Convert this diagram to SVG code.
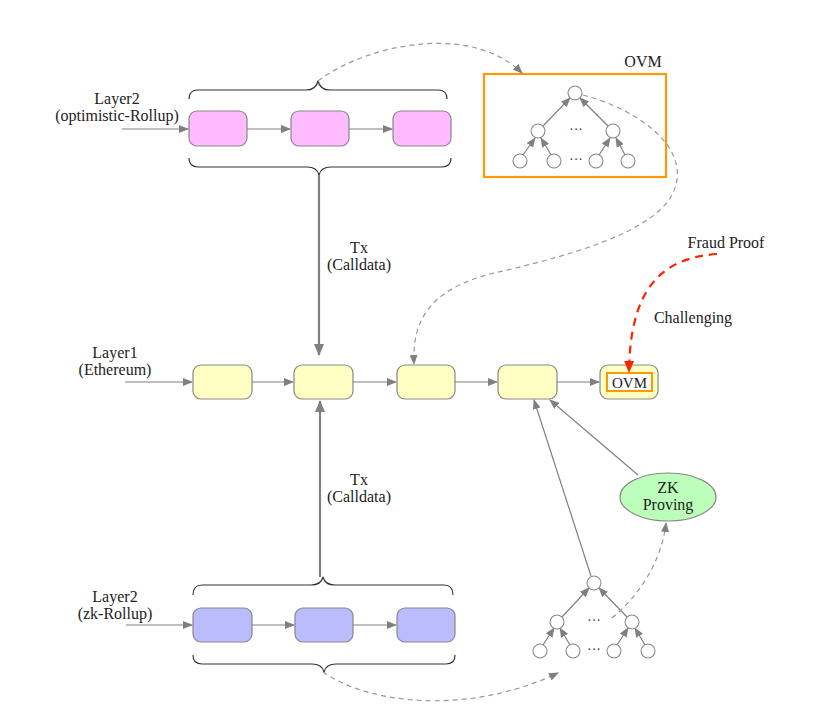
<svg xmlns="http://www.w3.org/2000/svg" width="830" height="716" viewBox="0 0 830 716">
<defs>
<marker id="ah" markerUnits="userSpaceOnUse" markerWidth="10" markerHeight="8" refX="9" refY="4" orient="auto"><path d="M0,0 L10,4 L0,8 Z" fill="#808080"/></marker>
<marker id="ahb" markerUnits="userSpaceOnUse" markerWidth="12" markerHeight="10" refX="11" refY="5" orient="auto"><path d="M0,0 L12,5 L0,10 Z" fill="#808080"/></marker>
<marker id="ahr" markerUnits="userSpaceOnUse" markerWidth="12" markerHeight="10" refX="11" refY="5" orient="auto"><path d="M0,0 L12,5 L0,10 Z" fill="#ff2200"/></marker>
</defs>
<style>
text{font-family:"Liberation Serif","DejaVu Serif",serif;font-size:16px;fill:#222;text-anchor:middle}
.box{stroke:#888;stroke-width:1.2}
.pink{fill:#ffbbff}.yel{fill:#ffffc4}.blue{fill:#bbbbff}
.ln{fill:none;stroke:#808080;stroke-width:1.2}
.thick{fill:none;stroke:#808080;stroke-width:2.2}
.dash{fill:none;stroke:#999;stroke-width:1.2;stroke-dasharray:5,4}
.brace{fill:none;stroke:#333;stroke-width:1.2}
.circ{fill:#fff;stroke:#888;stroke-width:1.1}
.orange{fill:none;stroke:#ff9900;stroke-width:2.2}
.dots{font-size:14px;fill:#444}
</style>
<g id="labels" font-family="Liberation Serif, serif">
<text x="117" y="104">Layer2</text>
<text x="117" y="121">(optimistic-Rollup)</text>
<text x="115" y="358">Layer1</text>
<text x="115" y="375">(Ethereum)</text>
<text x="115" y="602">Layer2</text>
<text x="115" y="619">(zk-Rollup)</text>
<text x="359" y="253">Tx</text>
<text x="359" y="270">(Calldata)</text>
<text x="359" y="485">Tx</text>
<text x="359" y="502">(Calldata)</text>
<text x="726" y="248">Fraud Proof</text>
<text x="693" y="323">Challenging</text>
</g>
<g id="opt-row">
<rect id="p1" class="box pink" x="189" y="111" width="58" height="35" rx="8"/>
<rect id="p2" class="box pink" x="291" y="111" width="58" height="35" rx="8"/>
<rect id="p3" class="box pink" x="393" y="111" width="58" height="35" rx="8"/>
</g>
<g id="l1-row">
<rect id="y1" class="box yel" x="193" y="365" width="59" height="34" rx="8"/>
<rect id="y2" class="box yel" x="294" y="365" width="59" height="34" rx="8"/>
<rect id="y3" class="box yel" x="397" y="365" width="58" height="34" rx="8"/>
<rect id="y4" class="box yel" x="498" y="365" width="59" height="34" rx="8"/>
<g id="y5">
<rect class="box yel" x="600" y="365" width="58" height="34" rx="8"/>
<rect x="607" y="373" width="45" height="18" fill="#fff" stroke="#ff9900" stroke-width="2"/>
<text x="629.5" y="387.5" style="font-size:15px">OVM</text>
</g>
</g>
<g id="zk-row">
<rect id="b1" class="box blue" x="193" y="608" width="59" height="34" rx="8"/>
<rect id="b2" class="box blue" x="295" y="608" width="58" height="34" rx="8"/>
<rect id="b3" class="box blue" x="397" y="608" width="58" height="34" rx="8"/>
</g>
<g id="braces">
<path class="brace" d="M189,99 Q189,90 198,90 L306,90 Q316,90 318,81 Q320,90 330,90 L438,90 Q447,90 447,99"/>
<path class="brace" d="M189,158 Q189,167 198,167 L307,167 Q317,167 319,175 Q321,167 331,167 L442,167 Q451,167 451,158"/>
<path class="brace" d="M193,595 Q193,585 202,585 L311,585 Q321,585 323,577 Q325,585 335,585 L444,585 Q453,585 453,595"/>
<path class="brace" d="M193,655 Q193,664 202,664 L312,664 Q322,664 324,672 Q326,664 336,664 L446,664 Q455,664 455,655"/>
</g>
<g id="ovm">
<rect class="orange" x="484" y="74" width="182" height="103"/>
<text x="643" y="67">OVM</text>
<line class="ln" x1="543" y1="126" x2="570" y2="98" marker-end="url(#ah)"/>
<line class="ln" x1="608" y1="126" x2="580" y2="98" marker-end="url(#ah)"/>
<line class="ln" x1="523" y1="155" x2="535" y2="138" marker-end="url(#ah)"/>
<line class="ln" x1="551" y1="155" x2="541" y2="138" marker-end="url(#ah)"/>
<line class="ln" x1="599" y1="155" x2="610" y2="138" marker-end="url(#ah)"/>
<line class="ln" x1="625" y1="155" x2="616" y2="138" marker-end="url(#ah)"/>
<circle class="circ" cx="575" cy="93" r="7"/>
<circle class="circ" cx="538" cy="131" r="7"/>
<circle class="circ" cx="613" cy="131" r="7"/>
<circle class="circ" cx="520" cy="161" r="7"/>
<circle class="circ" cx="554" cy="161" r="7"/>
<circle class="circ" cx="596" cy="161" r="7"/>
<circle class="circ" cx="628" cy="161" r="7"/>
<text class="dots" x="576" y="134">···</text>
<text class="dots" x="576" y="164">···</text>
</g>
<g id="zk-tree">
<line class="ln" x1="562" y1="617" x2="589" y2="588" marker-end="url(#ah)"/>
<line class="ln" x1="627" y1="617" x2="599" y2="588" marker-end="url(#ah)"/>
<line class="ln" x1="543" y1="645" x2="554" y2="628" marker-end="url(#ah)"/>
<line class="ln" x1="570" y1="645" x2="560" y2="628" marker-end="url(#ah)"/>
<line class="ln" x1="617" y1="645" x2="628" y2="628" marker-end="url(#ah)"/>
<line class="ln" x1="645" y1="645" x2="635" y2="628" marker-end="url(#ah)"/>
<circle class="circ" cx="594" cy="583" r="7"/>
<circle class="circ" cx="557" cy="622" r="7"/>
<circle class="circ" cx="632" cy="622" r="7"/>
<circle class="circ" cx="540" cy="651" r="7"/>
<circle class="circ" cx="573" cy="651" r="7"/>
<circle class="circ" cx="614" cy="651" r="7"/>
<circle class="circ" cx="648" cy="651" r="7"/>
<text class="dots" x="594" y="625">···</text>
<text class="dots" x="594" y="654">···</text>
</g>
<g id="zk-proving">
<ellipse cx="668" cy="497" rx="48" ry="24" fill="#bbffbb" stroke="#888" stroke-width="1.2"/>
<text x="668" y="493">ZK</text>
<text x="668" y="510">Proving</text>
</g>
<g id="connectors">
<line class="ln" x1="122" y1="129" x2="188" y2="129" marker-end="url(#ah)"/>
<line class="ln" x1="247" y1="129" x2="290" y2="129" marker-end="url(#ah)"/>
<line class="ln" x1="349" y1="129" x2="392" y2="129" marker-end="url(#ah)"/>
<line class="ln" x1="125" y1="382" x2="192" y2="382" marker-end="url(#ah)"/>
<line class="ln" x1="252" y1="382" x2="293" y2="382" marker-end="url(#ah)"/>
<line class="ln" x1="353" y1="382" x2="396" y2="382" marker-end="url(#ah)"/>
<line class="ln" x1="455" y1="382" x2="497" y2="382" marker-end="url(#ah)"/>
<line class="ln" x1="557" y1="382" x2="599" y2="382" marker-end="url(#ah)"/>
<line class="ln" x1="126" y1="625" x2="192" y2="625" marker-end="url(#ah)"/>
<line class="ln" x1="252" y1="625" x2="294" y2="625" marker-end="url(#ah)"/>
<line class="ln" x1="353" y1="625" x2="396" y2="625" marker-end="url(#ah)"/>
<line class="thick" x1="319" y1="175" x2="319" y2="355" marker-end="url(#ahb)"/>
<line class="thick" x1="320" y1="577" x2="320" y2="401" marker-end="url(#ahb)"/>
<line class="ln" x1="591" y1="576" x2="534" y2="400" marker-end="url(#ah)"/>
<line class="ln" x1="638" y1="475" x2="550" y2="400" marker-end="url(#ah)"/>
<path class="dash" d="M318,81 C365,45 470,22 522,73" marker-end="url(#ah)"/>
<path class="dash" d="M583,95 C640,110 695,150 672,195 C650,235 560,258 490,274 C430,290 412,320 414,364" marker-end="url(#ah)"/>
<path class="dash" d="M323,672 C370,705 470,715 558,673" marker-end="url(#ah)"/>
<path class="dash" d="M612,618 C640,595 662,560 666,523" marker-end="url(#ah)"/>
<path d="M717,254 C660,258 630,290 629,372" fill="none" stroke="#ff2200" stroke-width="2.2" stroke-dasharray="8,6" marker-end="url(#ahr)"/>
</g>
</svg>
